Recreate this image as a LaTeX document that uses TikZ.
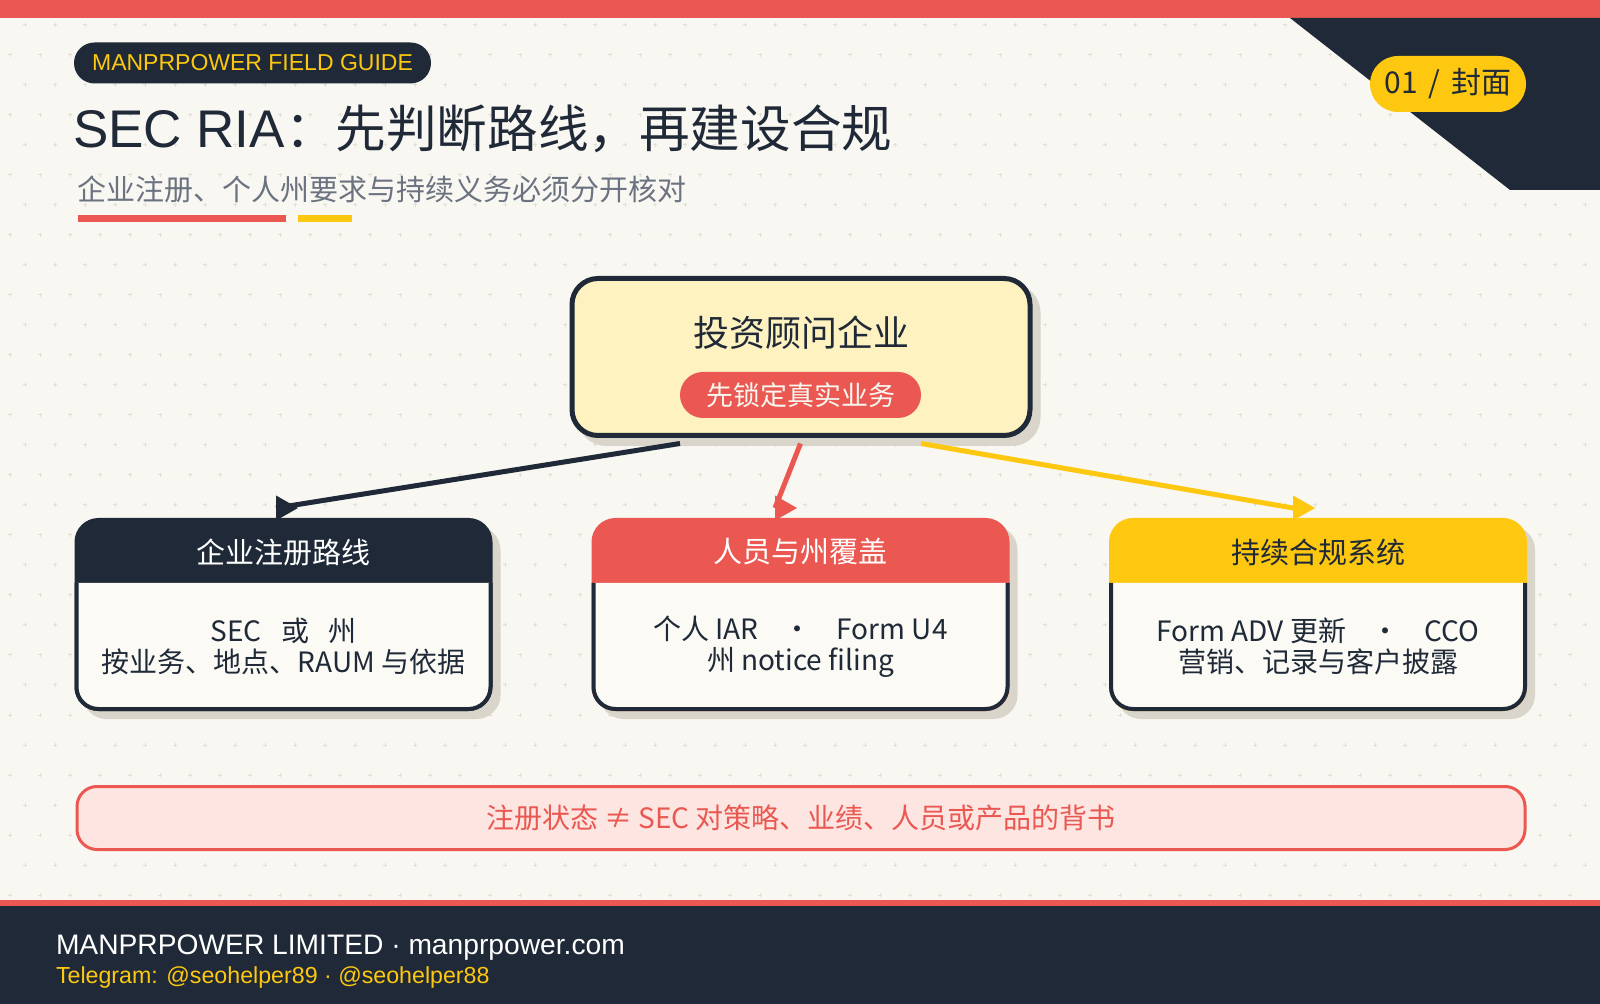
\documentclass[tikz,border=0pt]{standalone}
\usepackage{fontspec}
\setmainfont{Liberation Sans}
\newfontfamily\cjk{Noto Sans CJK SC}
\usetikzlibrary{positioning,calc}
\definecolor{ink}{HTML}{1F2937}
\definecolor{coral}{HTML}{EA5851}
\definecolor{gold}{HTML}{FDC80F}
\definecolor{paper}{HTML}{F8F7F1}
\definecolor{shade}{HTML}{D9D5CA}
\definecolor{cream}{HTML}{FEF2C0}
\definecolor{blush}{HTML}{FDE5E1}
\definecolor{slate}{HTML}{6B7280}
\definecolor{gridgray}{HTML}{E1DFD6}
\definecolor{bodyfill}{HTML}{FBFAF5}
\tikzset{
  gridmark/.style={draw=gridgray, line width=0.5pt},
  lift/.style={preaction={draw=shade, fill=shade, transform canvas={shift={(4pt,-4pt)}}}},
  card/.style={lift, rectangle, rounded corners=11pt, line width=2pt, minimum width=207pt, minimum height=94.5pt},
  cardbody/.style={draw=ink, line width=2pt, fill=bodyfill, rounded corners=11pt},
  head/.style={font=\cjk\fontsize{14.5}{17}\selectfont},
  note/.style={font=\cjk\fontsize{14}{15.5}\selectfont, text=ink, align=center},
  link/.style={line width=2.5pt},
}
\begin{document}
\begin{tikzpicture}[x=0.5pt, y=-0.5pt, inner sep=0pt, outer sep=0pt]
\useasboundingbox (0,0) rectangle (1600,1004);
\fill[paper] (0,0) rectangle (1600,1004);
\foreach \r in {0,...,29}{
  \pgfmathsetmacro\xo{mod(\r,2)==0 ? 25 : 10}
  \foreach \c in {0,...,52}
    \draw[gridmark] (\xo+30*\c,25+30*\r) ++(-2,0) -- ++(4,0) ++(-2,-2) -- ++(0,4);
}
\fill[coral] (0,0) rectangle (1600,18);
\fill[ink] (1290,18) -- (1600,18) -- (1600,190) -- (1510,190) -- cycle;
\node[fill=gold, rounded corners=14pt, minimum width=78pt, minimum height=28pt, text=ink, font=\cjk\fontsize{15}{17}\selectfont] (page) at (1448,84) {01\hspace{0.35em}/\hspace{0.35em}封面};

\node[fill=ink, rounded corners=10.25pt, minimum width=178.5pt, minimum height=20.5pt, text=gold, font=\fontsize{11.5}{13}\selectfont] (guide) at (252.5,63) {MANPRPOWER FIELD GUIDE};
\node[anchor=west, text=ink, font=\fontsize{26.5}{30}\selectfont] (title) at (73,129) {SEC RIA{\cjk\fontsize{25.3}{30}\selectfont ：先判断路线，再建设合规}};
\node[anchor=west, text=slate, font=\cjk\fontsize{14.5}{17}\selectfont] (subtitle) at (77,189) {企业注册、个人州要求与持续义务必须分开核对};
\fill[coral] (78,215) rectangle (286,222);
\fill[gold] (298,215) rectangle (352,222);

\node[lift, draw=ink, fill=cream, line width=2.5pt, rounded corners=13pt, minimum width=229pt, minimum height=78.5pt] (firm) at (801,357) {};
\node[text=ink, font=\cjk\fontsize{18}{20}\selectfont] (firmName) at (801,333) {投资顾问企业};
\node[fill=coral, rounded corners=11.5pt, minimum width=120.5pt, minimum height=23pt, text=paper, font=\cjk\fontsize{13.5}{15}\selectfont] (task) at (800.5,395) {先锁定真实业务};

\node[card, fill=ink, draw=ink] (reg) at (283.5,614.5) {};
\draw[cardbody] ([yshift=-31.5pt]reg.north west) -- (reg.south west) -- (reg.south east) -- ([yshift=-31.5pt]reg.north east);
\node[head, text=white] (regHead) at ([yshift=-16pt]reg.north) {企业注册路线};
\node[note] (regNote) at ([yshift=-16pt]reg.center) {SEC\hspace{0.7em}或\hspace{0.7em}州\\按业务、地点、RAUM 与依据};

\node[card, fill=coral, draw=coral] (staff) at (800.5,614.5) {};
\draw[cardbody] ([yshift=-31.5pt]staff.north west) -- (staff.south west) -- (staff.south east) -- ([yshift=-31.5pt]staff.north east);
\node[head, text=white] (staffHead) at ([yshift=-16pt]staff.north) {人员与州覆盖};
\node[note] (staffNote) at ([yshift=-16pt]staff.center) {个人 IAR\hspace{0.9em}·\hspace{0.9em}Form U4\\州 notice filing};

\node[card, fill=gold, draw=gold] (ops) at (1318,614.5) {};
\draw[cardbody] ([yshift=-31.5pt]ops.north west) -- (ops.south west) -- (ops.south east) -- ([yshift=-31.5pt]ops.north east);
\node[head, text=ink] (opsHead) at ([yshift=-16pt]ops.north) {持续合规系统};
\node[note] (opsNote) at ([yshift=-16pt]ops.center) {Form ADV 更新\hspace{0.9em}·\hspace{0.9em}CCO\\营销、记录与客户披露};

\coordinate (regIn) at ($(reg.north)+(-7.5,-12)$);
\coordinate (staffIn) at ($(staff.north)+(-25.5,-12)$);
\coordinate (opsIn) at ($(ops.north)+(-25,-12)$);
\draw[link, ink] ($(firm.south -| task.west)+(0,8)$) -- (regIn);
\draw[link, coral] ($(firm.south -| task)+(0,8)$) -- (staffIn);
\draw[link, gold] ($(firm.south -| task.east)+(0,8)$) -- (opsIn);
\fill[ink] (regIn) ++(0,-12.5) -- ++(22,12.5) -- ++(-22,12.5) -- cycle;
\fill[coral] (staffIn) ++(0,-12.5) -- ++(22,12.5) -- ++(-22,12.5) -- cycle;
\fill[gold] (opsIn) ++(0,-12.5) -- ++(22,12.5) -- ++(-22,12.5) -- cycle;

\node[draw=coral, fill=blush, line width=1.5pt, rounded corners=10pt, minimum width=724pt, minimum height=31.5pt, text=coral, font=\cjk\fontsize{14}{16}\selectfont] (caveat) at (801,818) {注册状态 ≠ SEC 对策略、业绩、人员或产品的背书};

\fill[coral] (0,900) rectangle (1600,906);
\fill[ink] (0,906) rectangle (1600,1004);
\node[anchor=west, text=white, font=\fontsize{14.1}{16}\selectfont] (corp) at (56,948) {MANPRPOWER LIMITED · manprpower.com};
\node[anchor=west, text=gold, font=\fontsize{11.6}{13}\selectfont] (tg) at (56,977) {Telegram: @seohelper89 · @seohelper88};
\end{tikzpicture}
\end{document}
